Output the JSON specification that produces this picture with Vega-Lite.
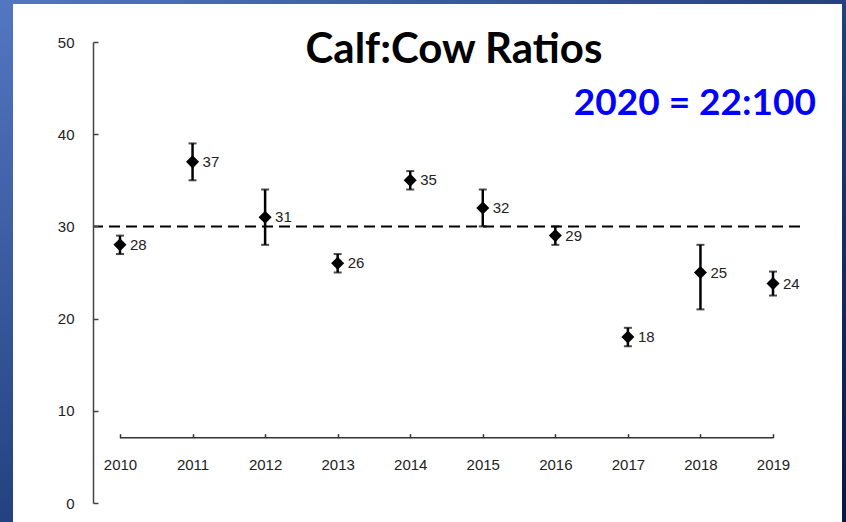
{
  "$schema": "https://vega.github.io/schema/vega-lite/v6.json",
  "autosize": {"type": "none"},
  "padding": {"left": 93, "top": 42, "right": 46, "bottom": 19},
  "width": 707,
  "height": 461,
  "background": "#1e3a78",
  "config": {"view": {"stroke": null}},
  "datasets": {
    "ratios": [
      {"year": 2010, "value": 28, "lo": 27, "hi": 29},
      {"year": 2011, "value": 37, "lo": 35, "hi": 39},
      {"year": 2012, "value": 31, "lo": 28, "hi": 34},
      {"year": 2013, "value": 26, "lo": 25, "hi": 27},
      {"year": 2014, "value": 35, "lo": 34, "hi": 36},
      {"year": 2015, "value": 32, "lo": 30, "hi": 34},
      {"year": 2016, "value": 29, "lo": 28, "hi": 30},
      {"year": 2017, "value": 18, "lo": 17, "hi": 19},
      {"year": 2018, "value": 25, "lo": 21, "hi": 28},
      {"year": 2019, "value": 23.8, "lo": 22.5, "hi": 25.1}
    ],
    "one": [{"title": "Calf:Cow Ratios", "note": "2020 = 22:100"}]
  },
  "data": {"name": "ratios"},
  "layer": [
    {
      "data": {"name": "one"},
      "mark": {"type": "rect", "fill": {"gradient": "linear", "x1": 0, "y1": 0, "x2": 1, "y2": 1, "stops": [{"offset": 0, "color": "#5578c4"}, {"offset": 0.55, "color": "#1f3b7a"}, {"offset": 1, "color": "#08173f"}]}},
      "encoding": {
        "x": {"datum": 2008.25, "type": "quantitative", "scale": {"domain": [2009.628, 2019.372], "nice": false, "zero": false}},
        "x2": {"datum": 2020.1},
        "y": {"datum": 55.3, "type": "quantitative", "scale": {"domain": [0, 50], "nice": false, "zero": true}},
        "y2": {"datum": -2.8}
      }
    },
    {
      "data": {"name": "one"},
      "mark": {"type": "rect", "fill": "#ffffff"},
      "encoding": {
        "x": {"datum": 2008.5255, "type": "quantitative"},
        "x2": {"datum": 2019.951},
        "y": {"datum": 54.12, "type": "quantitative"},
        "y2": {"datum": -2.8}
      }
    },
    {
      "data": {"name": "one"},
      "mark": {"type": "rule", "color": "#000000", "strokeWidth": 2, "strokeDash": [11, 6]},
      "encoding": {"y": {"datum": 30, "type": "quantitative"}}
    },
    {
      "data": {"name": "one"},
      "mark": {"type": "rule", "color": "#333333", "strokeWidth": 1.5},
      "encoding": {
        "x": {"datum": 2010, "type": "quantitative"},
        "x2": {"datum": 2019},
        "y": {"datum": 7.08, "type": "quantitative"}
      }
    },
    {
      "mark": {"type": "rule", "color": "#000000", "strokeWidth": 2.5},
      "encoding": {
        "x": {"field": "year", "type": "quantitative",
          "axis": {"orient": "bottom", "offset": -65.3, "values": [2010, 2011, 2012, 2013, 2014, 2015, 2016, 2017, 2018, 2019], "format": "d", "domain": false, "grid": false, "ticks": true, "tickSize": -4, "tickColor": "#333333", "tickWidth": 1.5, "labelFont": "Liberation Sans", "labelFontSize": 15, "labelColor": "#222222", "labelPadding": 24, "title": null, "zindex": 1, "labelFlush": false}},
        "y": {"field": "lo", "type": "quantitative",
          "axis": {"orient": "left", "values": [0, 10, 20, 30, 40, 50], "domain": true, "domainColor": "#444444", "domainWidth": 1.5, "grid": false, "tickSize": -5, "tickColor": "#444444", "tickWidth": 1.5, "labelFont": "Liberation Sans", "labelFontSize": 15, "labelColor": "#222222", "labelPadding": 24, "title": null, "zindex": 1, "labelFlush": false}},
        "y2": {"field": "hi"}
      }
    },
    {
      "mark": {"type": "tick", "orient": "horizontal", "color": "#000000", "size": 8, "thickness": 2},
      "encoding": {
        "x": {"field": "year", "type": "quantitative"},
        "y": {"field": "lo", "type": "quantitative"}
      }
    },
    {
      "mark": {"type": "tick", "orient": "horizontal", "color": "#000000", "size": 8, "thickness": 2},
      "encoding": {
        "x": {"field": "year", "type": "quantitative"},
        "y": {"field": "hi", "type": "quantitative"}
      }
    },
    {
      "mark": {"type": "point", "shape": "diamond", "filled": true, "color": "#000000", "opacity": 1, "size": 170},
      "encoding": {
        "x": {"field": "year", "type": "quantitative"},
        "y": {"field": "value", "type": "quantitative"}
      }
    },
    {
      "mark": {"type": "text", "align": "left", "baseline": "middle", "dx": 10, "font": "Liberation Sans", "fontSize": 15, "color": "#222222"},
      "encoding": {
        "x": {"field": "year", "type": "quantitative"},
        "y": {"field": "value", "type": "quantitative"},
        "text": {"field": "value", "type": "quantitative", "format": ".0f"}
      }
    },
    {
      "data": {"name": "one"},
      "mark": {"type": "text", "align": "center", "baseline": "alphabetic", "font": "Lato", "fontWeight": "bold", "fontSize": 42, "color": "#000000"},
      "encoding": {
        "x": {"datum": 2014.603, "type": "quantitative"},
        "y": {"datum": 47.72, "type": "quantitative"},
        "text": {"field": "title"}
      }
    },
    {
      "data": {"name": "one"},
      "mark": {"type": "text", "align": "right", "baseline": "alphabetic", "font": "Lato", "fontWeight": "bold", "fontSize": 37, "color": "#0000ff"},
      "encoding": {
        "x": {"datum": 2019.592, "type": "quantitative"},
        "y": {"datum": 42.08, "type": "quantitative"},
        "text": {"field": "note"}
      }
    }
  ]
}
